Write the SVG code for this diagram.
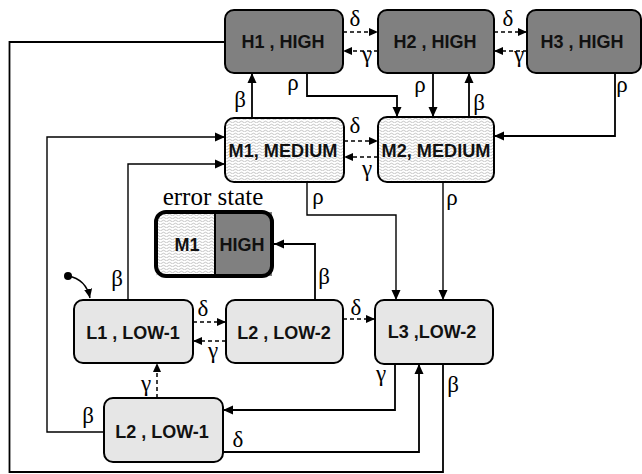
<svg xmlns="http://www.w3.org/2000/svg" width="642" height="474" viewBox="0 0 642 474">
<defs>
<pattern id="wave" patternUnits="userSpaceOnUse" width="6" height="3">
<rect width="6" height="3" fill="#ffffff"/>
<path d="M0,2 Q1.5,0.4 3,2 T6,2" fill="none" stroke="#aaaaaa" stroke-width="0.7"/>
</pattern>
<marker id="ah" markerUnits="userSpaceOnUse" markerWidth="11" markerHeight="10" refX="10" refY="5" orient="auto">
<path d="M0,0.5 L10,5 L0,9.5 z" fill="#000"/>
</marker>
<marker id="ahs" markerUnits="userSpaceOnUse" markerWidth="10" markerHeight="9" refX="9" refY="4.5" orient="auto">
<path d="M0,0.5 L9,4.5 L0,8.5 z" fill="#000"/>
</marker>
<style>
.high{fill:#808080;stroke:#000;stroke-width:2}
.med{fill:url(#wave);stroke:#000;stroke-width:2}
.low{fill:#e6e6e6;stroke:#000;stroke-width:2}
.lbl{font-family:"Liberation Sans",Arial,sans-serif;font-weight:bold;font-size:18px;text-anchor:middle;fill:#111}
.gr{font-family:"Liberation Serif","Times New Roman",serif;font-size:23px;text-anchor:middle;fill:#000}
.c{fill:none;stroke:#000;stroke-width:1.8}
.t{fill:none;stroke:#000;stroke-width:1.4}
.d{fill:none;stroke:#000;stroke-width:1.5;stroke-dasharray:4 3}
</style>
</defs>

<g id="connectors">
<path class="c" d="M225,42 H9.5 V472 H443 V364"/>
<path class="t" d="M104,432 H47 V137 H225" marker-end="url(#ah)"/>
<path class="t" d="M128,300 V164 H225" marker-end="url(#ah)"/>
<circle cx="68" cy="276" r="4" fill="#000"/>
<path class="t" d="M68,276 Q86,279 90,298" marker-end="url(#ahs)"/>
<path class="c" d="M307,73 V96 H397 V117" marker-end="url(#ah)"/>
<path class="c" d="M433,73 V117" marker-end="url(#ah)"/>
<path class="c" d="M469,117 V73" marker-end="url(#ah)"/>
<path class="c" d="M615,73 V136 H494" marker-end="url(#ah)"/>
<path class="c" d="M252,118 V73" marker-end="url(#ah)"/>
<path class="t" d="M307,182 V215 H396 V300" marker-end="url(#ah)"/>
<path class="t" d="M443,182 V300" marker-end="url(#ah)"/>
<path class="c" d="M315,300 V244 H274" marker-end="url(#ah)"/>
<path class="c" d="M395,364 V410 H223" marker-end="url(#ah)"/>
<path class="c" d="M223,452 H419 V364" marker-end="url(#ah)"/>
<path class="d" d="M157,398 V363" marker-end="url(#ahs)"/>
<path class="d" d="M343,32 H378" marker-end="url(#ahs)"/>
<path class="d" d="M378,51 H343" marker-end="url(#ahs)"/>
<path class="d" d="M494,32 H527" marker-end="url(#ahs)"/>
<path class="d" d="M527,51 H494" marker-end="url(#ahs)"/>
<path class="d" d="M344,141 H378" marker-end="url(#ahs)"/>
<path class="d" d="M378,157 H344" marker-end="url(#ahs)"/>
<path class="d" d="M193,322 H226" marker-end="url(#ahs)"/>
<path class="d" d="M226,341 H193" marker-end="url(#ahs)"/>
<path class="d" d="M343,319 H375" marker-end="url(#ahs)"/>

<text class="gr" x="355" y="26">δ</text>
<text class="gr" x="367" y="62">γ</text>
<text class="gr" x="508" y="26">δ</text>
<text class="gr" x="519" y="62">γ</text>
<text class="gr" x="293" y="90">ρ</text>
<text class="gr" x="240" y="107">β</text>
<text class="gr" x="420" y="92">ρ</text>
<text class="gr" x="479" y="110">β</text>
<text class="gr" x="622" y="92">ρ</text>
<text class="gr" x="355" y="133">δ</text>
<text class="gr" x="367" y="176">γ</text>
<text class="gr" x="318" y="204">ρ</text>
<text class="gr" x="452" y="205">ρ</text>
<text class="gr" x="117" y="286">β</text>
<text class="gr" x="324" y="284">β</text>
<text class="gr" x="203" y="316">δ</text>
<text class="gr" x="356" y="315">δ</text>
<text class="gr" x="213" y="358">γ</text>
<text class="gr" x="146" y="391">γ</text>
<text class="gr" x="88" y="423">β</text>
<text class="gr" x="238" y="447">δ</text>
<text class="gr" x="381" y="381">γ</text>
<text class="gr" x="453" y="392">β</text>
</g>

<g id="H1"><rect class="high" x="225" y="10" width="118" height="63" rx="9"/><text class="lbl" x="283" y="48">H1 , HIGH</text></g>
<g id="H2"><rect class="high" x="378" y="10" width="116" height="63" rx="9"/><text class="lbl" x="435" y="48">H2 , HIGH</text></g>
<g id="H3"><rect class="high" x="527" y="10" width="114" height="63" rx="9"/><text class="lbl" x="582" y="48">H3 , HIGH</text></g>
<g id="M1"><rect class="med" x="225" y="118" width="119" height="64" rx="9"/><text class="lbl" x="283" y="157" textLength="109" lengthAdjust="spacingAndGlyphs">M1, MEDIUM</text></g>
<g id="M2"><rect class="med" x="378" y="117" width="116" height="65" rx="9"/><text class="lbl" x="436" y="157" textLength="109" lengthAdjust="spacingAndGlyphs">M2, MEDIUM</text></g>
<g id="error">
<text x="213" y="205" style="font-family:'Liberation Serif','Times New Roman',serif;font-size:25px;text-anchor:middle">error state</text>
<rect x="156" y="212" width="59" height="64" fill="url(#wave)"/>
<rect x="215" y="212" width="57" height="64" fill="#808080"/>
<line x1="215" y1="212" x2="215" y2="276" stroke="#000" stroke-width="2"/>
<rect x="156" y="212" width="116" height="64" rx="10" fill="none" stroke="#000" stroke-width="4"/>
<text class="lbl" x="187" y="251">M1</text>
<text class="lbl" x="242" y="251">HIGH</text>
</g>
<g id="L1"><rect class="low" x="74" y="300" width="119" height="63" rx="9"/><text class="lbl" x="133" y="339">L1 , LOW-1</text></g>
<g id="L2a"><rect class="low" x="226" y="300" width="117" height="63" rx="9"/><text class="lbl" x="284" y="339">L2 , LOW-2</text></g>
<g id="L3"><rect class="low" x="375" y="300" width="118" height="64" rx="9"/><text class="lbl" x="432" y="338">L3 ,LOW-2</text></g>
<g id="L2b"><rect class="low" x="104" y="398" width="119" height="64" rx="9"/><text class="lbl" x="162" y="438">L2 , LOW-1</text></g>
</svg>
